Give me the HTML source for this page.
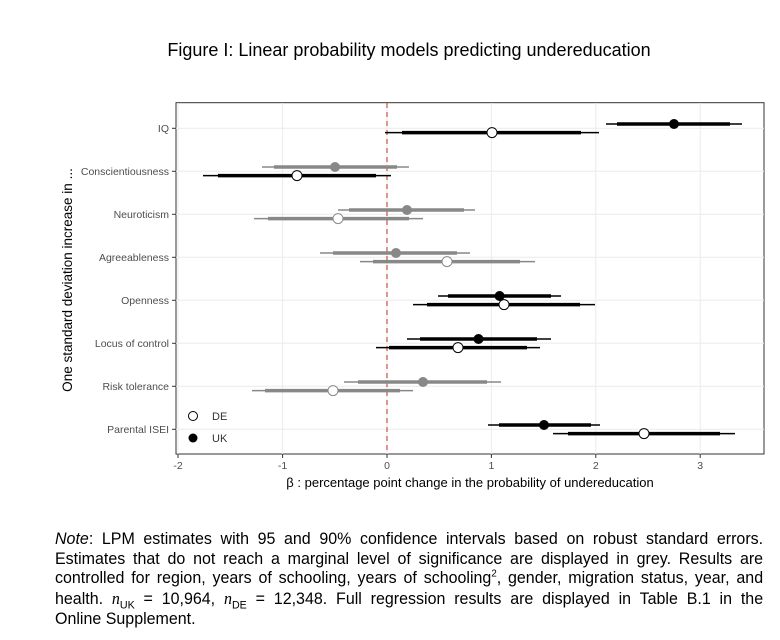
<!DOCTYPE html>
<html><head><meta charset="utf-8"><style>
body{margin:0;background:#fff;width:780px;height:640px;overflow:hidden;position:relative;font-family:"Liberation Sans",sans-serif}
.note{position:absolute;left:55px;top:530px;width:730px;transform:scaleX(0.97);transform-origin:0 0;font-size:16.5px;line-height:19.7px;text-align:justify;color:#000}
</style></head><body>
<svg width="780" height="520" style="position:absolute;left:0;top:0" font-family="Liberation Sans, sans-serif">
<text x="409" y="56" font-size="18" text-anchor="middle">Figure I: Linear probability models predicting undereducation</text>
<rect x="176" y="102.7" width="588" height="351.3" fill="#fff" stroke="#333" stroke-width="1"/>
<g stroke="#ebebeb" stroke-width="1">
<line x1="178" y1="103" x2="178" y2="454"/><line x1="282.6" y1="103" x2="282.6" y2="454"/><line x1="387" y1="103" x2="387" y2="454"/><line x1="491.4" y1="103" x2="491.4" y2="454"/><line x1="595.8" y1="103" x2="595.8" y2="454"/><line x1="700.2" y1="103" x2="700.2" y2="454"/>
<line x1="176" y1="128.3" x2="764" y2="128.3"/><line x1="176" y1="171.3" x2="764" y2="171.3"/><line x1="176" y1="214.3" x2="764" y2="214.3"/><line x1="176" y1="257.3" x2="764" y2="257.3"/><line x1="176" y1="300.3" x2="764" y2="300.3"/><line x1="176" y1="343.3" x2="764" y2="343.3"/><line x1="176" y1="386.3" x2="764" y2="386.3"/><line x1="176" y1="429.3" x2="764" y2="429.3"/>
</g>
<line x1="387" y1="103" x2="387" y2="454" stroke="#c8604c" stroke-width="1.3" stroke-dasharray="5,4"/>
<g stroke-linecap="butt">
<line x1="606" y1="124" x2="742" y2="124" stroke="#000" stroke-width="1.5"/><line x1="617" y1="124" x2="730" y2="124" stroke="#000" stroke-width="3.5"/><circle cx="674" cy="124" r="5" fill="#000"/>
<line x1="385" y1="132.6" x2="599" y2="132.6" stroke="#000" stroke-width="1.5"/><line x1="402" y1="132.6" x2="581" y2="132.6" stroke="#000" stroke-width="3.5"/><circle cx="492" cy="132.6" r="5" fill="#fff" stroke="#000"/>
<line x1="262" y1="167" x2="409" y2="167" stroke="#888" stroke-width="1.5"/><line x1="274" y1="167" x2="397" y2="167" stroke="#888" stroke-width="3.5"/><circle cx="335" cy="167" r="5" fill="#888"/>
<line x1="203" y1="175.6" x2="391" y2="175.6" stroke="#000" stroke-width="1.5"/><line x1="218" y1="175.6" x2="376" y2="175.6" stroke="#000" stroke-width="3.5"/><circle cx="297" cy="175.6" r="5" fill="#fff" stroke="#000"/>
<line x1="338" y1="210" x2="475" y2="210" stroke="#888" stroke-width="1.5"/><line x1="349" y1="210" x2="464" y2="210" stroke="#888" stroke-width="3.5"/><circle cx="407" cy="210" r="5" fill="#888"/>
<line x1="254" y1="218.6" x2="423" y2="218.6" stroke="#888" stroke-width="1.5"/><line x1="268" y1="218.6" x2="409" y2="218.6" stroke="#888" stroke-width="3.5"/><circle cx="338" cy="218.6" r="5" fill="#fff" stroke="#888"/>
<line x1="320" y1="253" x2="470" y2="253" stroke="#888" stroke-width="1.5"/><line x1="333" y1="253" x2="457" y2="253" stroke="#888" stroke-width="3.5"/><circle cx="396" cy="253" r="5" fill="#888"/>
<line x1="360" y1="261.6" x2="535" y2="261.6" stroke="#888" stroke-width="1.5"/><line x1="373" y1="261.6" x2="520" y2="261.6" stroke="#888" stroke-width="3.5"/><circle cx="447" cy="261.6" r="5" fill="#fff" stroke="#888"/>
<line x1="438" y1="296" x2="561" y2="296" stroke="#000" stroke-width="1.5"/><line x1="448" y1="296" x2="551" y2="296" stroke="#000" stroke-width="3.5"/><circle cx="499.6" cy="296" r="5" fill="#000"/>
<line x1="413" y1="304.6" x2="595" y2="304.6" stroke="#000" stroke-width="1.5"/><line x1="427" y1="304.6" x2="580" y2="304.6" stroke="#000" stroke-width="3.5"/><circle cx="504" cy="304.6" r="5" fill="#fff" stroke="#000"/>
<line x1="407" y1="339" x2="551" y2="339" stroke="#000" stroke-width="1.5"/><line x1="420" y1="339" x2="537" y2="339" stroke="#000" stroke-width="3.5"/><circle cx="478.5" cy="339" r="5" fill="#000"/>
<line x1="376" y1="347.6" x2="540" y2="347.6" stroke="#000" stroke-width="1.5"/><line x1="389" y1="347.6" x2="527" y2="347.6" stroke="#000" stroke-width="3.5"/><circle cx="458" cy="347.6" r="5" fill="#fff" stroke="#000"/>
<line x1="344" y1="382" x2="501" y2="382" stroke="#888" stroke-width="1.5"/><line x1="358" y1="382" x2="487" y2="382" stroke="#888" stroke-width="3.5"/><circle cx="423" cy="382" r="5" fill="#888"/>
<line x1="252" y1="390.6" x2="413" y2="390.6" stroke="#888" stroke-width="1.5"/><line x1="265" y1="390.6" x2="400" y2="390.6" stroke="#888" stroke-width="3.5"/><circle cx="333" cy="390.6" r="5" fill="#fff" stroke="#888"/>
<line x1="488" y1="425" x2="600" y2="425" stroke="#000" stroke-width="1.5"/><line x1="499" y1="425" x2="591" y2="425" stroke="#000" stroke-width="3.5"/><circle cx="544" cy="425" r="5" fill="#000"/>
<line x1="553" y1="433.6" x2="735" y2="433.6" stroke="#000" stroke-width="1.5"/><line x1="568" y1="433.6" x2="720" y2="433.6" stroke="#000" stroke-width="3.5"/><circle cx="644" cy="433.6" r="5" fill="#fff" stroke="#000"/>
</g>
<circle cx="193" cy="416" r="4.5" fill="#fff" stroke="#000"/><text x="212" y="420" font-size="11" fill="#333">DE</text>
<circle cx="193" cy="438" r="4.5" fill="#000"/><text x="212" y="442" font-size="11" fill="#333">UK</text>
<g stroke="#333"><line x1="172" y1="128.3" x2="176" y2="128.3"/><line x1="172" y1="171.3" x2="176" y2="171.3"/><line x1="172" y1="214.3" x2="176" y2="214.3"/><line x1="172" y1="257.3" x2="176" y2="257.3"/><line x1="172" y1="300.3" x2="176" y2="300.3"/><line x1="172" y1="343.3" x2="176" y2="343.3"/><line x1="172" y1="386.3" x2="176" y2="386.3"/><line x1="172" y1="429.3" x2="176" y2="429.3"/>
<line x1="178" y1="454" x2="178" y2="458"/><line x1="282.6" y1="454" x2="282.6" y2="458"/><line x1="387" y1="454" x2="387" y2="458"/><line x1="491.4" y1="454" x2="491.4" y2="458"/><line x1="595.8" y1="454" x2="595.8" y2="458"/><line x1="700.2" y1="454" x2="700.2" y2="458"/></g>
<g font-size="10.5" fill="#4d4d4d" text-anchor="end">
<text x="169" y="132">IQ</text><text x="169" y="175">Conscientiousness</text><text x="169" y="218">Neuroticism</text><text x="169" y="261">Agreeableness</text><text x="169" y="304">Openness</text><text x="169" y="347">Locus of control</text><text x="169" y="390">Risk tolerance</text><text x="169" y="433">Parental ISEI</text>
</g>
<g font-size="10.5" fill="#4d4d4d" text-anchor="middle">
<text x="178" y="469">-2</text><text x="282.6" y="469">-1</text><text x="387" y="469">0</text><text x="491.4" y="469">1</text><text x="595.8" y="469">2</text><text x="700.2" y="469">3</text>
</g>
<text x="470" y="487" font-size="13" text-anchor="middle">β : percentage point change in the probability of undereducation</text>
<text transform="translate(72,280) rotate(-90)" font-size="13.5" text-anchor="middle">One standard deviation increase in ...</text>
</svg>
<div class="note"><i>Note</i>: LPM estimates with 95 and 90% confidence intervals based on robust standard errors. Estimates that do not reach a marginal level of significance are displayed in grey. Results are controlled for region, years of schooling, years of schooling<sup style="font-size:10px;line-height:0">2</sup>, gender, migration status, year, and health. <i style="font-family:'Liberation Serif',serif">n</i><sub style="font-size:11px;line-height:0">UK</sub> = 10,964, <i style="font-family:'Liberation Serif',serif">n</i><sub style="font-size:11px;line-height:0">DE</sub> = 12,348. Full regression results are displayed in Table B.1 in the <span style="white-space:nowrap">Online Supplement.</span></div>
</body></html>
